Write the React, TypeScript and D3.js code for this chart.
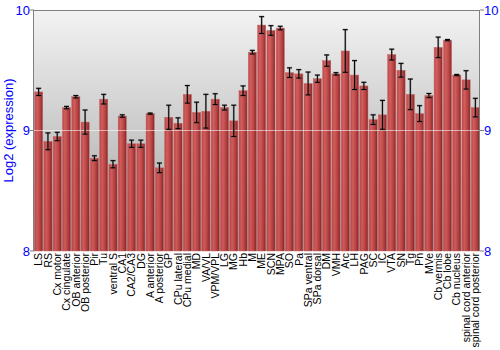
import React from "react";
import * as d3 from "d3";

const categories = ["LS","RS","Cx motor","Cx cingulate","OB anterior","OB posterior","Pir","Tu","ventral S","CA1","CA2/CA3","DG","A anterior","A posterior","GP","CPu lateral","CPu medial","MD","VA/VL","VPM/VPL","LG","MG","Hb","M","ME","SCN","MPA","SO","Pa","SPa ventral","SPa dorsal","DM","VMH","Arc","LH","PAG","SC","IC","VTA","SN","Tg","Pn","MVe","Cb vermis","Cb lobe","Cb nucleus","spinal cord anterior","spinal cord posterior"];
const values = [9.32,8.91,8.95,9.19,9.28,9.07,8.77,9.26,8.72,9.12,8.89,8.89,9.14,8.69,9.11,9.06,9.30,9.15,9.16,9.26,9.19,9.08,9.33,9.65,9.875,9.83,9.85,9.48,9.47,9.39,9.43,9.58,9.47,9.66,9.46,9.37,9.09,9.13,9.63,9.50,9.30,9.14,9.29,9.69,9.75,9.46,9.42,9.19];
const errors = [0.03,0.07,0.035,0.01,0.01,0.1,0.02,0.04,0.03,0.01,0.03,0.03,0.005,0.04,0.1,0.045,0.073,0.085,0.14,0.045,0.02,0.13,0.04,0.015,0.07,0.04,0.015,0.04,0.035,0.095,0.03,0.047,0.01,0.177,0.12,0.03,0.04,0.12,0.045,0.057,0.127,0.066,0.017,0.085,0.005,0.005,0.076,0.077];
const yTicks = [8, 9, 10];

export default function App() {
  const W = 500, H = 350;
  const left = 34, right = 480, top = 10, bottom = 251;
  const x = d3.scaleBand<string>().domain(categories).range([left, right]).paddingInner(0.12).paddingOuter(0.06);
  const y = d3.scaleLinear().domain([8, 10]).range([bottom, top]);
  const bw = x.bandwidth();
  return (
    <svg width={W} height={H} style={{ position: "absolute", left: 0, top: 0 }} fontFamily="'Liberation Sans', Arial, sans-serif">
      <defs>
        <linearGradient id="bg" x1="0" y1="0" x2="0" y2="1">
          <stop offset="0%" stopColor="#f3f3f3" />
          <stop offset="100%" stopColor="#a2a2a2" />
        </linearGradient>
        <linearGradient id="bar" x1="0" y1="0" x2="1" y2="0">
          <stop offset="0%" stopColor="#b83c3c" />
          <stop offset="30%" stopColor="#d25454" />
          <stop offset="70%" stopColor="#b53636" />
          <stop offset="100%" stopColor="#7c1a1a" />
        </linearGradient>
      </defs>
      <rect x={left} y={top} width={right - left} height={bottom - top} fill="url(#bg)" />
      {categories.map((c, i) => (
        <rect key={c} x={x(c)!} y={y(values[i])} width={bw} height={bottom - y(values[i])} fill="url(#bar)" stroke="#c86060" strokeWidth={0.5} opacity={0.92} />
      ))}
      <line x1={left} x2={right} y1={y(9)} y2={y(9)} stroke="#ffffff" strokeOpacity={0.55} strokeWidth={1} />
      {categories.map((c, i) => {
        const cx = x(c)! + bw / 2;
        const y1 = y(values[i] + errors[i]);
        const y2 = y(values[i] - errors[i]);
        return (
          <g key={"e" + c}>
            <line x1={cx} x2={cx} y1={y1} y2={y2} stroke="#555" strokeWidth={2} strokeOpacity={0.45} />
            <line x1={cx - 2.5} x2={cx + 2.5} y1={y1} y2={y1} stroke="#555" strokeWidth={2} strokeOpacity={0.45} />
            <line x1={cx - 2.5} x2={cx + 2.5} y1={y2} y2={y2} stroke="#555" strokeWidth={2} strokeOpacity={0.45} />
            <line x1={cx} x2={cx} y1={y1} y2={y2} stroke="#000" strokeWidth={1} />
            <line x1={cx - 2.5} x2={cx + 2.5} y1={y1} y2={y1} stroke="#000" strokeWidth={1} />
            <line x1={cx - 2.5} x2={cx + 2.5} y1={y2} y2={y2} stroke="#000" strokeWidth={1} />
          </g>
        );
      })}
      <line x1={left} x2={right} y1={top + 0.5} y2={top + 0.5} stroke="#808080" strokeWidth={1} />
      <line x1={left - 0.5} x2={left - 0.5} y1={top} y2={bottom} stroke="#808080" strokeWidth={1} />
      <line x1={right - 0.5} x2={right - 0.5} y1={top} y2={bottom} stroke="#808080" strokeWidth={1} />
      {yTicks.map((t) => (
        <g key={t}>
          <line x1={left - 4} x2={left} y1={y(t)} y2={y(t)} stroke="#808080" />
          <text x={left - 4} y={y(t)} dy="0.35em" textAnchor="end" fontSize={13} fill="#0000ff">{t}</text>
          <line x1={right} x2={right + 4} y1={y(t)} y2={y(t)} stroke="#808080" />
          <text x={right + 4} y={y(t)} dy="0.35em" textAnchor="start" fontSize={13} fill="#0000ff">{t}</text>
        </g>
      ))}
      <text transform={`translate(13,${(top + bottom) / 2}) rotate(-90)`} textAnchor="middle" fontSize={13} fill="#0000ff">Log2 (expression)</text>
      {categories.map((c) => (
        <text key={"l" + c} transform={`translate(${x(c)! + bw / 2},${bottom + 2}) rotate(-90)`} textAnchor="end" dy="0.35em" fontSize={10.5} fill="#000">{c}</text>
      ))}
    </svg>
  );
}
